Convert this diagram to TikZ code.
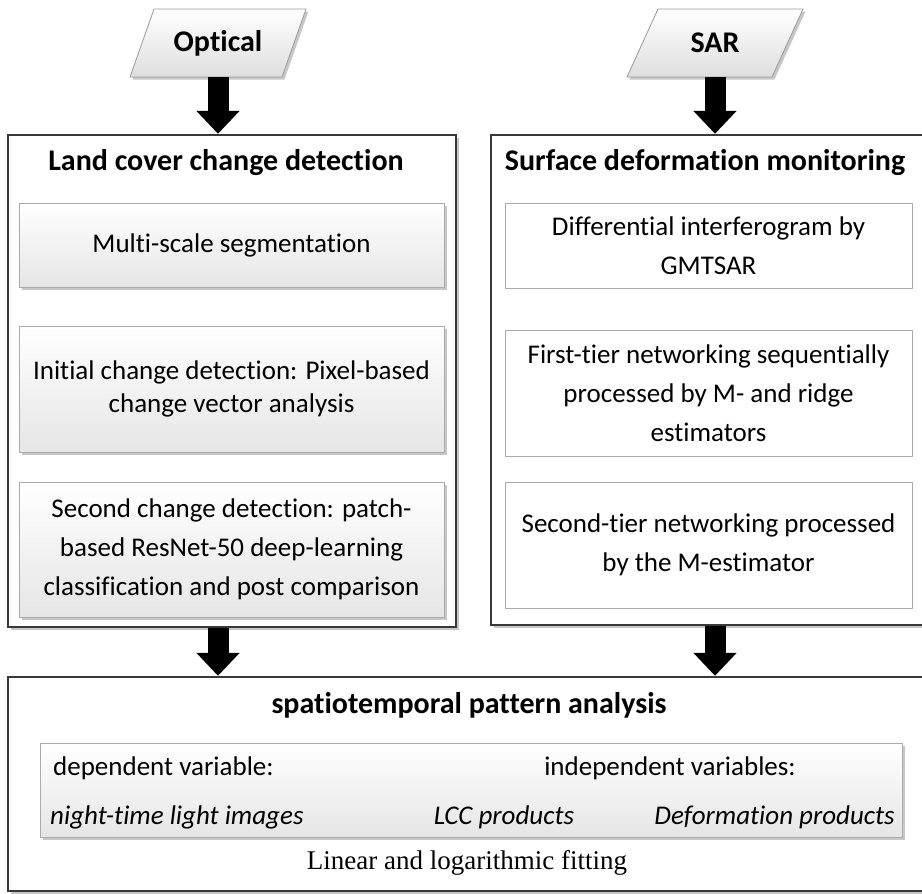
\documentclass[tikz,border=0pt]{standalone}
\usepackage{fontspec}
\setmainfont[Ligatures=NoCommon]{Carlito}
\newfontfamily\timesfont{Liberation Serif}
\usetikzlibrary{arrows.meta,shadows,calc}
\begin{document}
\begin{tikzpicture}[x=1pt,y=-1pt,
  txt/.style={font=\fontsize{27}{33}\selectfont, align=center, inner sep=0pt},
  wide/.style={font=\fontsize{27}{39}\selectfont},
  itx/.style={font=\fontsize{27}{33}\selectfont\itshape, inner sep=0pt},
  head/.style={font=\fontsize{30}{36}\selectfont\bfseries, inner sep=0pt},
  softshadow/.style={drop shadow={shadow xshift=2.5pt, shadow yshift=-2.5pt, opacity=0.22, fill=black}},
  outerbox/.style={draw=black!78, line width=2.4pt, fill=white, softshadow, inner sep=0pt},
  gradbox/.style={draw=black!33, line width=0.9pt, top color=white, bottom color=black!10, softshadow, txt},
  plainbox/.style={draw=black!33, line width=0.9pt, fill=white, txt},
  parashape/.style={draw=black!40, line width=0.8pt, top color=white, bottom color=black!13, softshadow},
  bigarrow/.style={line width=21pt, black, -{Triangle[width=42pt,length=23pt]}},
]
\useasboundingbox (0,0) rectangle (922,894);
\fill[white] (0,0) rectangle (922,894);

% input parallelograms
\path[parashape] (154,9) -- (306,9) -- (282,77) -- (130,77) -- cycle;
\node[head, minimum width=150pt, minimum height=68pt] (opt) at (218,43) {Optical};
\path[parashape] (658,9) -- (803,9) -- (772,77) -- (627,77) -- cycle;
\node[head, minimum width=140pt, minimum height=68pt] (sar) at (715,43) {SAR};

% big boxes
\node[outerbox, minimum width=448pt, minimum height=492pt] (lcc) at (232,381) {};
\node[outerbox, minimum width=435pt, minimum height=490pt] (sdm) at (708.5,380) {};
\node[head] (lcct) at (226,163) {Land cover change detection};
\node[head] (sdmt) at (705,163) {Surface deformation monitoring};

% left inner boxes
\node[gradbox, minimum width=425pt, minimum height=84pt] (l1) at (231.5,245) {Multi-scale segmentation};
\node[gradbox, minimum width=425pt, minimum height=126pt] (l2) at (231.5,389) {Initial change detection: Pixel-based\\change vector analysis};
\node[gradbox, wide, minimum width=425pt, minimum height=135pt] (l3) at (231.5,549.5) {Second change detection: patch-\\based ResNet-50 deep-learning\\classification and post comparison};

% right inner boxes
\node[plainbox, wide, minimum width=407pt, minimum height=85pt] (r1) at (708.5,245.5) {Differential interferogram by\\GMTSAR};
\node[plainbox, wide, minimum width=407pt, minimum height=126pt] (r2) at (708.5,393) {First-tier networking sequentially\\processed by M- and ridge\\estimators};
\node[plainbox, wide, minimum width=407pt, minimum height=126pt] (r3) at (708.5,545) {Second-tier networking processed\\by the M-estimator};

% bottom box
\node[outerbox, minimum width=918pt, minimum height=214pt] (spa) at (467,784) {};
\node[head] (spat) at (469,705) {spatiotemporal pattern analysis};
\node[gradbox, minimum width=862pt, minimum height=94pt] (vars) at (471,790) {};
\node[txt, anchor=west] (dep) at (53,768) {dependent variable:};
\node[txt] (indep) at (670,768) {independent variables:};
\node[itx, anchor=west] (ntl) at (50,817) {night-time light images};
\node[itx] (lccp) at (504,817) {LCC products};
\node[itx, anchor=east] (defp) at (895,817) {Deformation products};
\node[font=\fontsize{27}{33}\selectfont\timesfont, inner sep=0pt] (fit) at (467,863) {Linear and logarithmic fitting};

% arrows
\draw[bigarrow] (opt.south) -- (opt.south |- lcc.north);
\draw[bigarrow] (sar.south) -- (sar.south |- sdm.north);
\draw[bigarrow] (lcc.south -| opt.south) -- (spa.north -| opt.south);
\draw[bigarrow] (sdm.south -| sar.south) -- (spa.north -| sar.south);
\end{tikzpicture}
\end{document}
